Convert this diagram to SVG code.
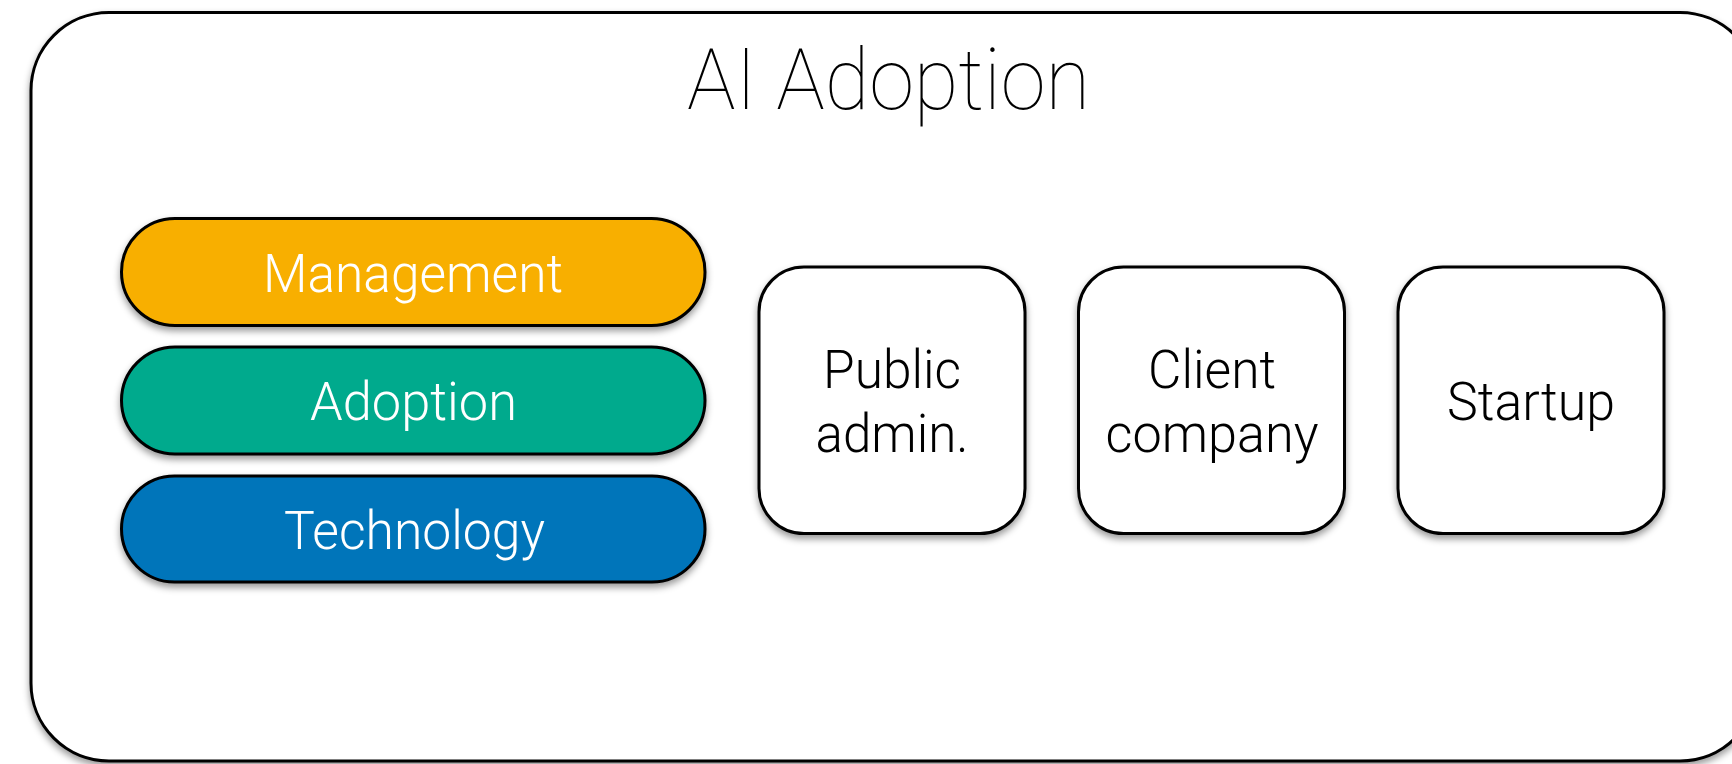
<svg xmlns="http://www.w3.org/2000/svg" width="1732" height="764" viewBox="0 0 1732 764">
<defs>
<filter id="sh" x="-10%" y="-10%" width="120%" height="130%">
<feDropShadow dx="0" dy="4" stdDeviation="3.5" flood-color="#000" flood-opacity="0.4"/>
</filter>
</defs>
<style>
.frame{fill:#fff;stroke:#000;stroke-width:3;filter:url(#sh)}
.pill{stroke:#000;stroke-width:3;filter:url(#sh)}
.box{fill:#fff;stroke:#000;stroke-width:3;filter:url(#sh)}
text{font-family:Roboto,"Liberation Sans",sans-serif;font-weight:300;text-anchor:middle}
.pt{fill:#fff;font-size:54px}
.bt{fill:#000;font-size:53px}
.title{fill:#000;font-size:86px;font-weight:100}
</style>
<rect width="1732" height="764" fill="#fff"/>
<g id="frame">
<rect class="frame" x="31" y="12.5" width="1727" height="748.5" rx="78" ry="78"/>
<text class="title" x="888.5" y="109" textLength="403" lengthAdjust="spacingAndGlyphs">AI Adoption</text>
</g>
<g id="management">
<rect class="pill" x="121.5" y="218.5" width="583.5" height="107" rx="53.5" fill="#F8AF06"/>
<text class="pt" x="413" y="291.5" textLength="300" lengthAdjust="spacingAndGlyphs">Management</text>
</g>
<g id="adoption">
<rect class="pill" x="121.5" y="347" width="583.5" height="107" rx="53.5" fill="#00AA8D"/>
<text class="pt" x="413.5" y="420" textLength="207" lengthAdjust="spacingAndGlyphs">Adoption</text>
</g>
<g id="technology">
<rect class="pill" x="121.5" y="476" width="583.5" height="106" rx="53" fill="#0174BA"/>
<text class="pt" x="414.5" y="549" textLength="261" lengthAdjust="spacingAndGlyphs">Technology</text>
</g>
<g id="public-admin">
<rect class="box" x="759" y="267" width="266" height="266.5" rx="45" ry="45"/>
<text class="bt" x="892" y="388" textLength="138" lengthAdjust="spacingAndGlyphs">Public</text>
<text class="bt" x="892" y="451.5" textLength="153" lengthAdjust="spacingAndGlyphs">admin.</text>
</g>
<g id="client-company">
<rect class="box" x="1078.5" y="267" width="266" height="266.5" rx="45" ry="45"/>
<text class="bt" x="1212" y="388" textLength="128" lengthAdjust="spacingAndGlyphs">Client</text>
<text class="bt" x="1212" y="451.5" textLength="213" lengthAdjust="spacingAndGlyphs">company</text>
</g>
<g id="startup">
<rect class="box" x="1398" y="267" width="266" height="266.5" rx="45" ry="45"/>
<text class="bt" x="1531" y="420" textLength="168" lengthAdjust="spacingAndGlyphs">Startup</text>
</g>
<g id="connectors"></g>
</svg>
